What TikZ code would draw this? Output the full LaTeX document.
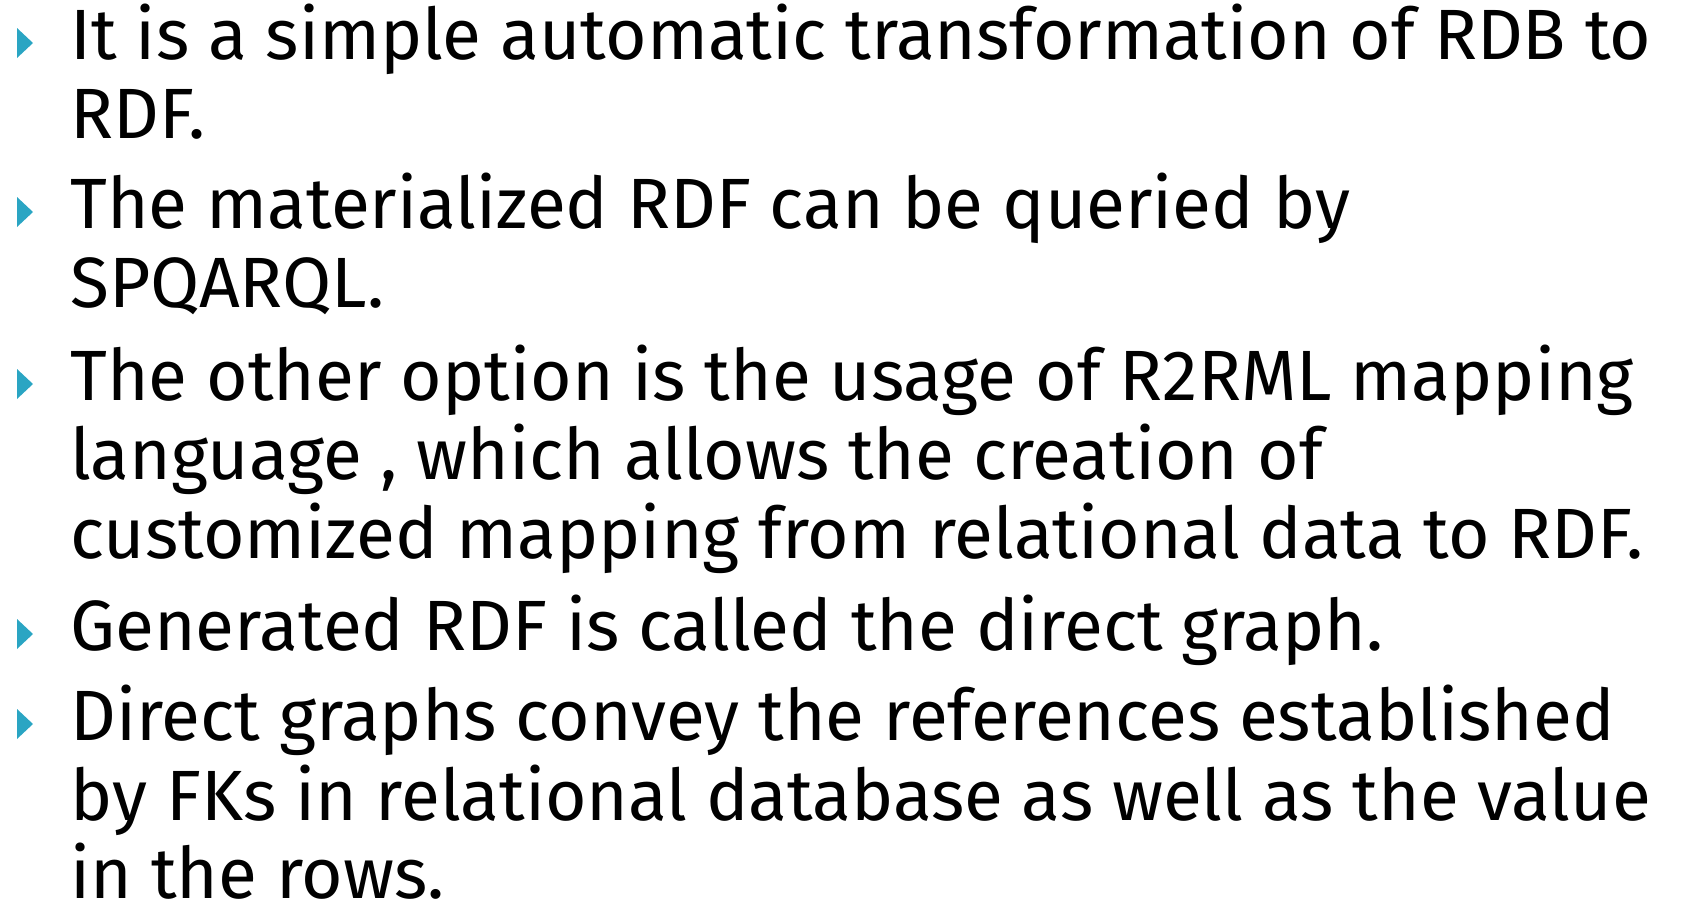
\documentclass[tikz,border=0pt]{standalone}
\usepackage{fontspec}
\setmainfont{Fira Sans}
\definecolor{slidecyan}{RGB}{42,165,195}

\begin{document}
\begin{tikzpicture}[x=0.5pt,y=-0.5pt,
    line/.style={anchor=base west, inner sep=0pt, font=\fontsize{35.6}{40}\selectfont},
    tri/.style={fill=slidecyan}]
    \useasboundingbox (0,0) rectangle (1683,905);

    % Bullet markers
    \foreach \b in {59,228,400,650,740}
        \fill[tri] (17,\b-31) -- (33,\b-16) -- (17,\b-1) -- cycle;

    % Text lines
    \node[line] (l1) at (70,59) {It is a simple automatic transformation of RDB to};
    \node[line] (l2) at (70,138) {RDF.};

    \node[line] (l3) at (70,228) {The materialized RDF can be queried by};
    \node[line] (l4) at (70,307) {SPQARQL.};

    \node[line] (l5) at (70,400) {The other option is the usage of R2RML mapping};
    \node[line] (l6) at (70,479) {language , which allows the creation of};
    \node[line] (l7) at (70,558) {customized mapping from relational data to RDF.};

    \node[line] (l8) at (70,650) {Generated RDF is called the direct graph.};

    \node[line] (l9) at (70,740) {Direct graphs convey the references established};
    \node[line] (l10) at (70,820) {by FKs in relational database as well as the value};
    \node[line] (l11) at (70,898) {in the rows.};
\end{tikzpicture}
\end{document}
